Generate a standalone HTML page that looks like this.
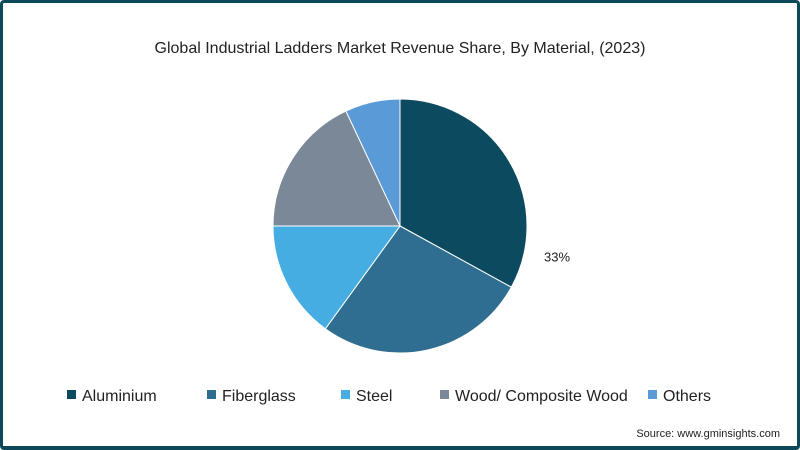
<!DOCTYPE html>
<html><head><meta charset="utf-8"><style>
body{margin:0;width:800px;height:450px;overflow:hidden;background:#fff;font-family:"Liberation Sans",sans-serif}
#frame{position:absolute;left:0;top:0;width:794px;height:443px;border:3px solid #0b4858;border-bottom-width:4px;border-radius:4px;background:#fff}
</style></head><body>
<div id="frame"></div>
<svg id="chart" width="800" height="450" style="position:absolute;left:0;top:0">
<text x="400" y="53" text-anchor="middle" font-size="16" fill="#222">Global Industrial Ladders Market Revenue Share, By Material, (2023)</text>
<g id="slices"></g>
<g id="legend"></g>
<text x="780" y="437" text-anchor="end" font-size="11" fill="#222">Source: www.gminsights.com</text>
</svg>
<script>
const categories=["Aluminium","Fiberglass","Steel","Wood/ Composite Wood","Others"];
const values=[33,27,15,18,7];
const labels=["33%","","","",""];
const colors=["#0b4a5f","#2f6e90","#46ade2","#7b8898","#5a9ad6"];
const ns="http://www.w3.org/2000/svg";
const cx=400,cy=226,r=127;
const total=values.reduce((a,b)=>a+b,0);
const g=document.getElementById('slices');
let a0=0;
values.forEach((v,i)=>{
  const a1=a0+v/total*2*Math.PI;
  const p=(a)=>[cx+r*Math.sin(a),cy-r*Math.cos(a)];
  const [x0,y0]=p(a0),[x1,y1]=p(a1);
  const path=document.createElementNS(ns,'path');
  path.setAttribute('d',`M${cx},${cy}L${x0},${y0}A${r},${r} 0 ${a1-a0>Math.PI?1:0} 1 ${x1},${y1}Z`);
  path.setAttribute('fill',colors[i]);path.setAttribute('stroke','#fff');path.setAttribute('stroke-width','1');
  
  
  g.appendChild(path);
  if(labels[i]){
    const am=a0+0.85*(a1-a0);
    const t=document.createElementNS(ns,'text');
    t.setAttribute('x',cx+160*Math.sin(am));t.setAttribute('y',cy-160*Math.cos(am)+5);
    t.setAttribute('font-size','13');t.setAttribute('fill','#222');t.setAttribute('text-anchor','middle');
    t.textContent=labels[i];
    
    
    g.appendChild(t);
  }
  a0=a1;
});
const lg=document.getElementById('legend');
const lx=[67,207,341,440,648];
categories.forEach((c,i)=>{
  const gg=document.createElementNS(ns,'g');
  
  
  const s=document.createElementNS(ns,'rect');
  s.setAttribute('x',lx[i]);s.setAttribute('y',390);s.setAttribute('width',9);s.setAttribute('height',9);s.setAttribute('fill',colors[i]);
  const t=document.createElementNS(ns,'text');
  t.setAttribute('x',lx[i]+15);t.setAttribute('y',401);t.setAttribute('font-size','16');t.setAttribute('fill','#222');
  t.textContent=c;
  gg.appendChild(s);gg.appendChild(t);lg.appendChild(gg);
});
</script>
</body></html>
